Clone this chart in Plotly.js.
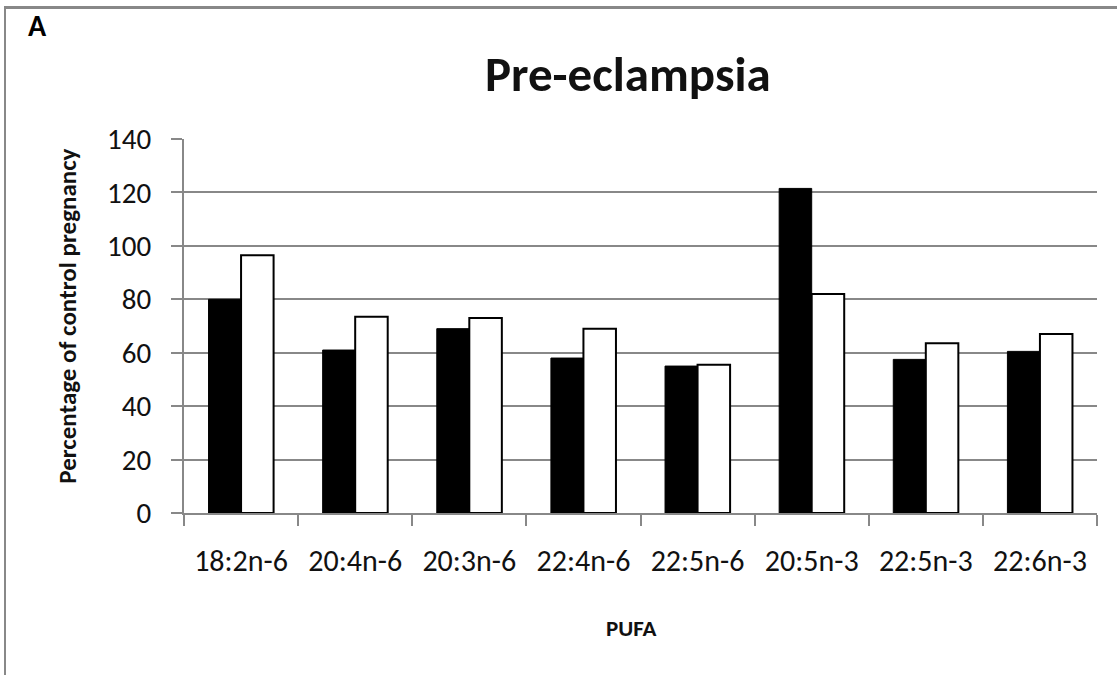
<!DOCTYPE html>
<html>
<head>
<meta charset="utf-8">
<script src="https://cdn.plot.ly/plotly-3.0.1.min.js"></script>
<style>
  html, body { margin: 0; padding: 0; background: #fff; }
  #wrap { position: relative; width: 1117px; height: 675px; overflow: hidden; }
  #chart { width: 1117px; height: 675px; }
  #frame { position: absolute; left: 4px; top: 6px; width: 1200px; height: 800px;
           border-top: 3px solid #888; border-left: 2px solid #888; pointer-events: none; }
</style>
</head>
<body>
<div id="wrap">
  <div id="chart"></div>
  <div id="frame"></div>
</div>
<script>
const categories = ["18:2n-6", "20:4n-6", "20:3n-6", "22:4n-6", "22:5n-6", "20:5n-3", "22:5n-3", "22:6n-3"];
const seriesBlack = [80, 61, 69, 58, 55, 121.5, 57.5, 60.5];
const seriesWhite = [96.5, 73.5, 73, 69, 55.5, 82, 63.5, 67];
const yTicks = [0, 20, 40, 60, 80, 100, 120, 140];

const FONT = "Carlito, Lato, 'Open Sans', sans-serif";

// plot area geometry (pixels)
const L = 184, R = 20, T = 139, B = 161.5;
const PW = 1117 - L - R, PH = 675 - T - B;
const px = (x) => (x - L) / PW;
const py = (y) => (675 - B - y) / PH;

const traces = [
  {
    type: "bar", x: categories, y: seriesBlack, name: "Black",
    marker: { color: "#000000", line: { color: "#000000", width: 1 } },
    hoverinfo: "x+y"
  },
  {
    type: "bar", x: categories, y: seriesWhite, name: "White",
    marker: { color: "#ffffff", line: { color: "#000000", width: 2 } },
    hoverinfo: "x+y"
  }
];

const layout = {
  width: 1117, height: 675,
  paper_bgcolor: "#ffffff", plot_bgcolor: "#ffffff",
  margin: { l: L, r: R, t: T, b: B, pad: 0 },
  showlegend: false,
  barmode: "group", bargap: 0.43, bargroupgap: 0,
  font: { family: FONT, color: "#111111" },
  xaxis: {
    type: "category",
    tickson: "boundaries",
    ticks: "outside", ticklen: 11, tickwidth: 2, tickcolor: "#888888",
    showline: true, linecolor: "#888888", linewidth: 2,
    showgrid: false, zeroline: false,
    tickfont: { family: FONT, size: 30, color: "#111111" },
    ticklabelstandoff: 20
  },
  yaxis: {
    range: [0, 140],
    tickvals: yTicks,
    ticktext: yTicks.map(String),
    ticks: "outside", ticklen: 11, tickwidth: 2, tickcolor: "#888888",
    showline: true, linecolor: "#888888", linewidth: 2,
    showgrid: true, gridcolor: "#888888", gridwidth: 2,
    zeroline: false,
    tickfont: { family: FONT, size: 29, color: "#111111" },
    ticklabelstandoff: 14
  },
  annotations: [
    {
      text: "<b>A</b>", xref: "paper", yref: "paper",
      x: px(37), y: py(25), xanchor: "center", yanchor: "middle", showarrow: false,
      font: { family: FONT, size: 30, color: "#000000" }
    },
    {
      text: "<b>Pre-eclampsia</b>", xref: "paper", yref: "paper",
      x: px(628), y: py(74), xanchor: "center", yanchor: "middle", showarrow: false,
      font: { family: FONT, size: 49, color: "#111111" }
    },
    {
      text: "<b>Percentage of control pregnancy</b>", xref: "paper", yref: "paper",
      x: px(68), y: py(316), xanchor: "center", yanchor: "middle", showarrow: false,
      textangle: -90,
      font: { family: FONT, size: 25, color: "#111111" }
    },
    {
      text: "<b>PUFA</b>", xref: "paper", yref: "paper",
      x: px(631), y: py(629), xanchor: "center", yanchor: "middle", showarrow: false,
      font: { family: FONT, size: 23, color: "#111111" }
    }
  ]
};

Plotly.newPlot("chart", traces, layout, { displayModeBar: false, staticPlot: true });
</script>
</body>
</html>
